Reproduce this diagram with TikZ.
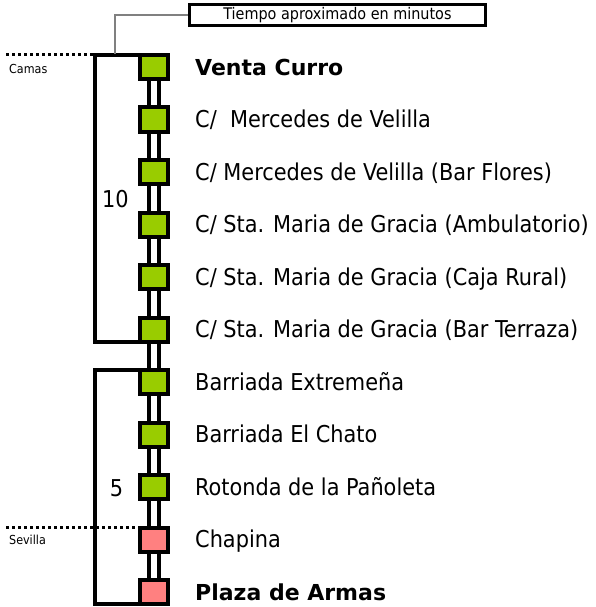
\documentclass[tikz,border=0pt]{standalone}
\usepackage{fontspec}
\setmainfont{DejaVu Sans Condensed}
\newfontfamily\widefont{DejaVu Sans}
\usetikzlibrary{
    positioning,
    calc
}
\definecolor{lima}{RGB}{153,204,0}
\definecolor{rosa}{RGB}{255,128,128}
\tikzset{
    stn/.style={
        draw,
        rectangle,
        minimum width=28pt,
        minimum height=24pt,
        line width=4pt,
        inner sep=0pt,
        outer sep=0pt,
        fill=lima
    },
    stnred/.style={
        stn,
        fill=rosa
    },
    lab/.style={
        font=\fontsize{23.2}{26}\selectfont,
        inner sep=0pt,
        text height=17pt,
        text depth=0.4pt,
        anchor=west
    },
    labb/.style={
        lab,
        font=\widefont\fontsize{22}{26}\selectfont\bfseries
    },
    town/.style={
        font=\fontsize{12.4}{14}\selectfont,
        inner sep=0pt,
        anchor=west
    },
    rail/.style={
        line width=4pt
    }
}

\begin{document}
\begin{tikzpicture}[
    x=1pt,
    y=-1pt,
    node distance=28.5pt,
    brk/.style={
        line width=4pt
    },
    cut/.style={
        line width=3pt,
        dash pattern=on 3pt off 3pt
    },
    callout/.style={
        line width=1.5pt,
        draw=black!50
    },
    notebox/.style={
        draw,
        rectangle,
        line width=3.5pt,
        minimum width=296pt,
        minimum height=21pt,
        inner sep=0pt,
        font=\fontsize{16}{18}\selectfont
    }
]
\useasboundingbox (0,0) rectangle (595,607);

% stations
\node[stn] (s1) at (154,67) {};
\node[stn, below=of s1] (s2) {};
\node[stn, below=of s2] (s3) {};
\node[stn, below=of s3] (s4) {};
\node[stn, below=of s4] (s5) {};
\node[stn, below=of s5] (s6) {};
\node[stn, below=of s6] (s7) {};
\node[stn, below=of s7] (s8) {};
\node[stn, below=of s8] (s9) {};
\node[stnred, below=of s9] (s10) {};
\node[stnred, below=of s10] (s11) {};

% names
\node[labb, right=27pt of s1] (n1) {Venta Curro};
\node[lab, right=27pt of s2] (n2) {C/~ Mercedes de Velilla};
\node[lab, right=27pt of s3] (n3) {C/ Mercedes de Velilla (Bar Flores)};
\node[lab, right=27pt of s4] (n4) {C/ Sta. Maria de Gracia (Ambulatorio)};
\node[lab, right=27pt of s5] (n5) {C/ Sta. Maria de Gracia (Caja Rural)};
\node[lab, right=27pt of s6] (n6) {C/ Sta. Maria de Gracia (Bar Terraza)};
\node[lab, right=27pt of s7] (n7) {Barriada Extremeña};
\node[lab, right=27pt of s8] (n8) {Barriada El Chato};
\node[lab, right=27pt of s9] (n9) {Rotonda de la Pañoleta};
\node[lab, right=27pt of s10] (n10) {Chapina};
\node[labb, right=27pt of s11] (n11) {Plaza de Armas};

% rails
\foreach \i [remember=\i as \p (initially 1)] in {2,...,11} {
    \draw[rail] ([xshift=-4.75pt]s\p.south) -- ([xshift=-4.75pt]s\i.north);
    \draw[rail] ([xshift=4.75pt]s\p.south) -- ([xshift=4.75pt]s\i.north);
}

% time brackets
\coordinate (bx) at (95,0);
\coordinate (lft) at (6,0);
\draw[brk] (s1.north west) -- (s1.north west -| bx) -- (s6.south west -| bx) -- (s6.south west);
\draw[brk] (s7.north west) -- (s7.north west -| bx) -- (s11.south west -| bx) -- (s11.south west);
\node[lab, anchor=center] (t10) at (115.5,199) {10};
\node[lab, anchor=center] (t5) at (116.5,488) {5};

% town limits
\coordinate (sevend) at ($(s10.north west)+(-4pt,0)$);
\draw[cut] (s1.north -| lft) -- (s1.north -| bx);
\draw[cut] (s10.north -| lft) -- (sevend);
\node[town] (camas) at (9,69) {Camas};
\node[town] (sevilla) at (9,540) {Sevilla};

% legend
\node[notebox] (note) at (337.5,15) {Tiempo aproximado en minutos};
\coordinate (tick) at (115,54.5);
\draw[callout] (note.west) -| (tick);

\end{tikzpicture}
\end{document}
